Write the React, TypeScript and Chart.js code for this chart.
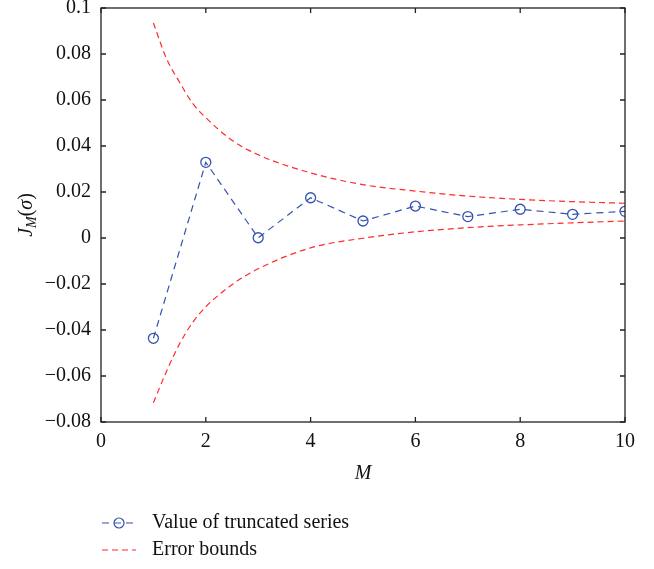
import React, { useEffect, useRef } from "react";
import { Chart, registerables } from "chart.js";

Chart.register(...registerables);

const mValues = [1, 2, 3, 4, 5, 6, 7, 8, 9, 10];
const truncatedSeries = [-0.0436, 0.0329, 0.0001, 0.0175, 0.0074, 0.0139, 0.0093, 0.0125, 0.0103, 0.0116];
const boundM = [1, 1.25, 1.5, 1.75, 2, 2.5, 3, 4, 5, 6, 7, 8, 9, 10];
const upperBound = [0.0935, 0.078, 0.0677, 0.0585, 0.0523, 0.0425, 0.0362, 0.0283, 0.0232, 0.0204, 0.0182, 0.0168, 0.0158, 0.0151];
const lowerBound = [-0.0716, -0.058, -0.046, -0.0367, -0.0299, -0.0203, -0.0134, -0.0043, -0.0001, 0.0027, 0.0045, 0.0057, 0.0066, 0.0074];
const xTicks = [0, 2, 4, 6, 8, 10];
const yTicks = [-0.08, -0.06, -0.04, -0.02, 0, 0.02, 0.04, 0.06, 0.08, 0.1];
const legendLabels = ["Value of truncated series", "Error bounds"];

const BLUE = "#3352b0";
const RED = "#ff2a2a";
const FONT = "'Liberation Serif', 'Times New Roman', serif";

const fmt = (v: number) => {
  const s = Number(v.toFixed(2)).toString();
  return s.replace("-", "\u2212");
};

const decorPlugin = {
  id: "decor",
  afterDraw(chart: any) {
    const ctx = chart.ctx;
    const { left, right, top, bottom } = chart.chartArea;
    const xs = chart.scales.x;
    const ys = chart.scales.y;
    ctx.save();
    ctx.strokeStyle = "#222";
    ctx.lineWidth = 1.3;
    ctx.strokeRect(left, top, right - left, bottom - top);
    const tl = 5;
    ctx.beginPath();
    xTicks.forEach((t) => {
      const px = xs.getPixelForValue(t);
      ctx.moveTo(px, bottom);
      ctx.lineTo(px, bottom - tl);
      ctx.moveTo(px, top);
      ctx.lineTo(px, top + tl);
    });
    yTicks.forEach((t) => {
      const py = ys.getPixelForValue(t);
      ctx.moveTo(left, py);
      ctx.lineTo(left + tl, py);
      ctx.moveTo(right, py);
      ctx.lineTo(right - tl, py);
    });
    ctx.stroke();

    ctx.fillStyle = "#111";
    ctx.font = `italic 20px ${FONT}`;
    ctx.textAlign = "center";
    ctx.textBaseline = "middle";
    ctx.fillText("M", (left + right) / 2, 474);

    ctx.save();
    ctx.translate(25, (top + bottom) / 2);
    ctx.rotate(-Math.PI / 2);
    ctx.textBaseline = "alphabetic";
    ctx.textAlign = "left";
    const parts: [string, string, number][] = [
      ["J", `italic 20px ${FONT}`, 0],
      ["M", `italic 14px ${FONT}`, 4],
      ["(", `20px ${FONT}`, 0],
      ["\u03c3", `italic 20px ${FONT}`, 0],
      [")", `20px ${FONT}`, 0],
    ];
    let total = 0;
    parts.forEach(([t, f]) => {
      ctx.font = f;
      total += ctx.measureText(t).width;
    });
    let x = -total / 2;
    parts.forEach(([t, f, dy]) => {
      ctx.font = f;
      ctx.fillText(t, x, 7 + dy);
      x += ctx.measureText(t).width;
    });
    ctx.restore();

    const lx0 = 102;
    const lx1 = 136;
    const rows = [523, 550];
    ctx.lineWidth = 1.2;
    ctx.strokeStyle = BLUE;
    ctx.setLineDash([7, 5]);
    ctx.beginPath();
    ctx.moveTo(lx0, rows[0]);
    ctx.lineTo(lx1, rows[0]);
    ctx.stroke();
    ctx.setLineDash([]);
    ctx.beginPath();
    ctx.arc((lx0 + lx1) / 2, rows[0], 5, 0, Math.PI * 2);
    ctx.stroke();
    ctx.strokeStyle = RED;
    ctx.setLineDash([6, 4]);
    ctx.beginPath();
    ctx.moveTo(lx0, rows[1]);
    ctx.lineTo(lx1, rows[1]);
    ctx.stroke();
    ctx.setLineDash([]);

    ctx.fillStyle = "#111";
    ctx.font = `20px ${FONT}`;
    ctx.textAlign = "left";
    ctx.textBaseline = "middle";
    ctx.fillText(legendLabels[0], 152, rows[0]);
    ctx.fillText(legendLabels[1], 152, rows[1]);
    ctx.restore();
  },
};

export default function App() {
  const ref = useRef<HTMLCanvasElement>(null);
  useEffect(() => {
    if (!ref.current) return;
    const toXY = (xsArr: number[], arr: number[]) => xsArr.map((m, i) => ({ x: m, y: arr[i] }));
    const redLine = (label: string, arr: number[]) => ({
      label,
      data: toXY(boundM, arr),
      borderColor: RED,
      borderWidth: 1.2,
      borderDash: [6, 4],
      pointRadius: 0,
      cubicInterpolationMode: "monotone",
      fill: false,
    });
    const chart = new Chart(ref.current, {
      type: "line",
      data: {
        datasets: [
          redLine(legendLabels[1], upperBound),
          redLine(legendLabels[1] + " lower", lowerBound),
          {
            label: legendLabels[0],
            data: toXY(mValues, truncatedSeries),
            borderColor: BLUE,
            borderWidth: 1.2,
            borderDash: [7, 5],
            pointRadius: 5,
            pointBorderWidth: 1.3,
            pointBorderColor: BLUE,
            pointBackgroundColor: "rgba(0,0,0,0)",
            tension: 0,
            fill: false,
          },
        ],
      },
      options: {
        animation: false,
        responsive: false,
        maintainAspectRatio: false,
        layout: { padding: { left: 0, right: 29, top: 8, bottom: 0 } },
        plugins: { legend: { display: false }, tooltip: { enabled: false } },
        scales: {
          x: {
            type: "linear",
            min: 0,
            max: 10,
            afterFit: (s: any) => {
              s.height = 147;
              s.paddingLeft = 0;
              s.paddingRight = 0;
            },
            afterBuildTicks: (s: any) => {
              s.ticks = xTicks.map((v) => ({ value: v }));
            },
            grid: { display: false, drawTicks: false },
            border: { display: false },
            ticks: {
              color: "#111",
              padding: 8,
              maxRotation: 0,
              font: { family: FONT, size: 20 },
              callback: (v: any) => fmt(Number(v)),
            },
          },
          y: {
            type: "linear",
            min: -0.08,
            max: 0.1,
            afterFit: (s: any) => {
              s.width = 101;
              s.paddingTop = 0;
              s.paddingBottom = 0;
            },
            afterBuildTicks: (s: any) => {
              s.ticks = yTicks.map((v) => ({ value: v }));
            },
            grid: { display: false, drawTicks: false },
            border: { display: false },
            ticks: {
              color: "#111",
              padding: 10,
              font: { family: FONT, size: 20 },
              callback: (v: any) => fmt(Number(v)),
            },
          },
        },
      },
      plugins: [decorPlugin],
    } as any);
    return () => chart.destroy();
  }, []);
  return (
    <div style={{ position: "absolute", left: 0, top: 0, width: 654, height: 569, background: "#fff" }}>
      <canvas ref={ref} width={654} height={569} style={{ width: 654, height: 569, display: "block" }} />
    </div>
  );
}
